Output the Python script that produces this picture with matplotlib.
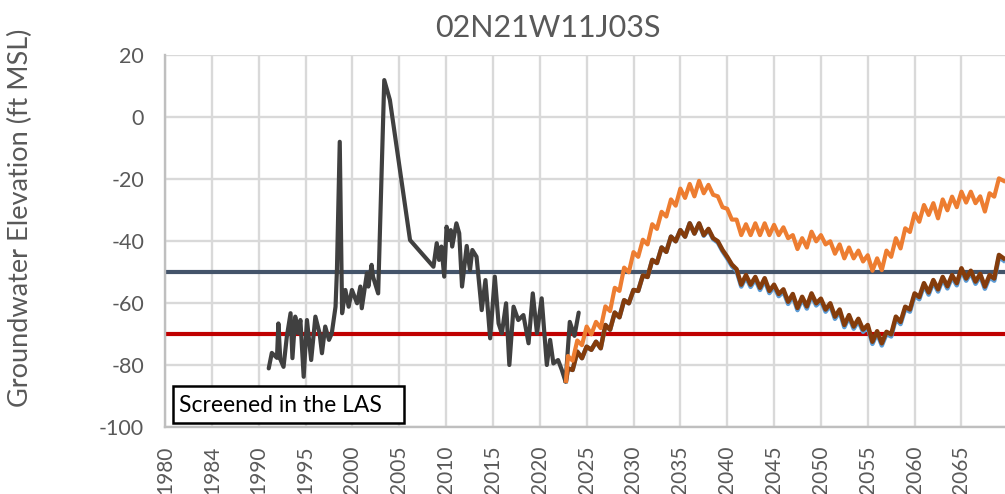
import matplotlib
matplotlib.use("Agg")
import matplotlib.pyplot as plt
from matplotlib.patches import Rectangle

plt.rcParams['font.family'] = ['Lato', 'DejaVu Sans']

# ---------------- data ----------------
title = "02N21W11J03S"
y_label = "Groundwater Elevation (ft MSL)"
note_text = "Screened in the LAS"

tick_years = [1980, 1985, 1990, 1995, 2000, 2005, 2010, 2015, 2020,
              2025, 2030, 2035, 2040, 2045, 2050, 2055, 2060, 2065]
tick_labels = ["1980", "1984", "1990", "1995", "2000", "2005", "2010", "2015", "2020",
               "2025", "2030", "2035", "2040", "2045", "2050", "2055", "2060", "2065"]

hist_years = [1991.07, 1991.4, 1991.95, 1992.1, 1992.3, 1992.65, 1993.0, 1993.4, 1993.6,
              1993.9, 1994.2, 1994.45, 1994.8, 1995.15, 1995.6, 1996.05, 1996.5, 1996.75,
              1997.1, 1997.5, 1997.8, 1998.2, 1998.35, 1998.65, 1998.9, 1999.25, 1999.6,
              1999.95, 2000.5, 2000.85, 2001.0, 2001.55, 2001.7, 2002.05, 2002.2, 2002.75,
              2003.4, 2004.0, 2006.15, 2008.65, 2009.0, 2009.25, 2009.5, 2009.8, 2010.05,
              2010.3, 2010.5, 2010.65, 2011.1, 2011.4, 2011.7, 2012.2, 2012.55, 2012.8,
              2013.25, 2013.8, 2014.2, 2014.7, 2015.2, 2015.6, 2015.95, 2016.4, 2016.75,
              2017.2, 2017.7, 2018.25, 2018.8, 2019.25, 2019.7, 2020.2, 2020.75, 2021.1,
              2021.45, 2021.95, 2022.35, 2022.75, 2023.2, 2023.7, 2024.15]
hist_levels = [-81, -76, -77.6, -66.5, -78, -80.5, -70.8, -63.2, -77.7,
               -64.3, -69.6, -65.4, -83.7, -65.4, -78.3, -64.3, -69.7, -76.1,
               -67.5, -71.8, -69.7, -61.1, -49.3, -7.9, -63.2, -55.7, -61.1,
               -55.7, -60, -54.6, -61.6, -50.3, -54.6, -47.6, -51.4, -56.8,
               12, 5.6, -39.6, -48.2, -40.6, -46, -41.7, -51.4, -35.3,
               -39.6, -36.4, -41.7, -34.2, -37.4, -54.6, -41.5, -49.3, -42.8,
               -45, -62.2, -52.5, -71.3, -51.4, -66.5, -69.7, -60, -79.9,
               -61.1, -65.4, -63.8, -72.9, -56.8, -69.7, -58.4, -79.9, -71.8,
               -79.4, -78.3, -81.5, -85.3, -66, -70.5, -63]

# projected scenarios: yearly high (start of year) and low (mid-year)
proj_start_year = 2022.8
proj_start_level = -85
proj_years = list(range(2023, 2070))

orange_hi = [-77, -72, -67.5, -66, -61, -55, -48.5, -43.5, -39.5, -34.5,
             -30.5, -26.5, -23, -21.5, -20.5, -21.8, -25.5, -29.5, -33, -34.5,
             -34.2, -34.2, -34.7, -35.5, -38, -39, -36.9, -38, -40, -41,
             -42, -43, -44.5, -45.5, -43, -39, -35.8, -31, -28.3, -27.7,
             -26.5, -25.6, -24, -24, -25.5, -24.5, -19.7]
orange_lo = [-78.5, -73.5, -70, -68, -62.5, -56, -50, -45, -41, -36,
             -32, -28.5, -26, -25.5, -24.5, -25, -29, -33, -38, -38,
             -38, -38, -38, -39, -42.5, -42, -40, -41, -44, -45.5,
             -45.5, -46.5, -49.5, -49.3, -45, -42.3, -37, -33.7, -31.5, -32.6,
             -30, -29, -27.5, -27.7, -30.4, -25.6, -20.5]

brown_hi = [-81, -75.6, -74, -72.4, -67, -63, -59, -55.7, -51, -46,
            -42, -38.5, -36.4, -34.2, -34.2, -36, -40, -45, -49, -50.9,
            -51.5, -51.9, -54, -55.5, -57, -57.9, -56.8, -58.5, -60, -62,
            -63.8, -65, -67, -69, -69.2, -64.3, -61.1, -56.8, -53.5, -52.5,
            -51.5, -50.9, -48.7, -49.5, -50.5, -50.9, -44.4]
brown_lo = [-81.5, -77.7, -75, -74.5, -68.5, -64.5, -60, -56, -51.5, -47,
            -43.4, -40, -38.5, -37.5, -38, -39, -42.8, -47.5, -54, -54,
            -55, -56, -57, -59.5, -61.5, -61, -60, -62, -64.3, -67,
            -67.5, -68.5, -72.4, -72.9, -70, -66, -62, -58, -56.5, -55.5,
            -54.5, -53.5, -52, -53, -54.6, -52, -45.5]

blue_hi = [-81, -75.6, -74, -72.4, -67, -63, -59, -55.7, -51, -46,
           -42, -38.5, -36.4, -34.2, -34.4, -36.3, -40.4, -45.5, -49.6, -51.6,
           -52.2, -52.6, -54.7, -56.2, -57.7, -58.6, -57.5, -59.2, -60.7, -62.7,
           -64.5, -65.7, -67.7, -69.7, -69.9, -65, -61.8, -57.5, -54.2, -53.2,
           -52.2, -51.6, -49.4, -50.2, -51.2, -51.6, -45.1]
blue_lo = [-81.5, -77.7, -75, -74.5, -68.5, -64.5, -60, -56, -51.5, -47,
           -43.4, -40, -38.5, -37.5, -38.2, -39.3, -43.2, -48, -54.6, -54.7,
           -55.7, -56.7, -57.7, -60.2, -62.2, -61.7, -60.7, -62.7, -65, -67.7,
           -68.2, -69.2, -73.1, -73.6, -70.7, -66.7, -62.7, -58.7, -57.2, -56.2,
           -55.2, -54.2, -52.7, -53.7, -55.3, -52.7, -46.2]

threshold_upper = -50
threshold_lower = -70

# ---------------- styling ----------------
gray_text = "#595959"
grid_color = "#D9D9D9"
hist_color = "#404040"
orange_color = "#ED7D31"
brown_color = "#843C0C"
blue_color = "#5B9BD5"
upper_color = "#44546A"
lower_color = "#C00000"


def seasonal_series(hi, lo):
    t = [proj_start_year]
    v = [proj_start_level]
    for yr, h, l in zip(proj_years, hi, lo):
        t += [yr, yr + 0.5]
        v += [h, l]
    return t, v


W, H = 1005, 494
fig = plt.figure(figsize=(W / 100, H / 100), dpi=100)
left, right, top, bottom = 165, 1005, 55.3, 427.3
ax = fig.add_axes([left / W, 1 - bottom / H, (right - left) / W, (bottom - top) / H])

ax.set_xlim(1980, 1980 + (right - left) / 9.37)
ax.set_ylim(-100, 20)
ax.set_xticks(tick_years)
ax.set_xticklabels(tick_labels, rotation=90, fontsize=15, color=gray_text)
ax.set_yticks(range(-100, 21, 20))
ax.set_yticklabels([str(v) for v in range(-100, 21, 20)], fontsize=15.5, color=gray_text)
ax.tick_params(axis='x', length=0, pad=13)
ax.tick_params(axis='y', length=0, pad=15)

ax.grid(True, color=grid_color, linewidth=1.7, zorder=0)
ax.set_axisbelow(True)
for s in ("top", "right"):
    ax.spines[s].set_visible(False)
for s in ("left", "bottom"):
    ax.spines[s].set_color("#BFBFBF")
    ax.spines[s].set_linewidth(1.7)

ax.axhline(threshold_upper, color=upper_color, linewidth=3.0, zorder=2)
ax.axhline(threshold_lower, color=lower_color, linewidth=3.0, zorder=2)

ax.plot(hist_years, hist_levels, color=hist_color, linewidth=3.0,
        solid_joinstyle='round', solid_capstyle='round', zorder=4)

t, v = seasonal_series(blue_hi, blue_lo)
ax.plot(t, v, color=blue_color, linewidth=3.2, solid_joinstyle='round', zorder=3)
t, v = seasonal_series(brown_hi, brown_lo)
ax.plot(t, v, color=brown_color, linewidth=3.2, solid_joinstyle='round', zorder=4)
t, v = seasonal_series(orange_hi, orange_lo)
ax.plot(t, v, color=orange_color, linewidth=3.0, solid_joinstyle='round', zorder=5)

# title and axis label
fig.text(548 / W, 1 - 28 / H, title, ha='center', va='center',
         fontsize=22, color=gray_text)
fig.text(20 / W, 1 - 218 / H, y_label, ha='center', va='center', rotation=90,
         fontsize=19.5, color=gray_text)

# annotation box
bx0, by0, bx1, by1 = 173, 386, 404, 423
fig.add_artist(Rectangle((bx0 / W, 1 - by1 / H), (bx1 - bx0) / W, (by1 - by0) / H,
                         transform=fig.transFigure, facecolor='white',
                         edgecolor='black', linewidth=1.8, zorder=10))
fig.text(179 / W, 1 - 405 / H, note_text, ha='left', va='center',
         fontsize=16.5, color='black', zorder=11)

fig.savefig("out.png", dpi=100)
